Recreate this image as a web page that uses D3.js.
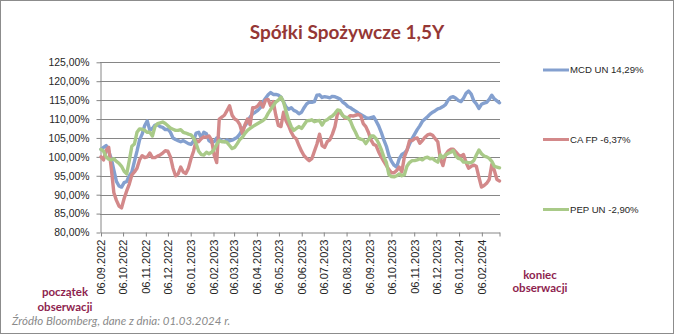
<!DOCTYPE html>
<html>
<head>
<meta charset="utf-8">
<script src="https://cdn.jsdelivr.net/npm/d3@7"></script>
<style>
  html, body { margin: 0; padding: 0; background: #fff; }
  svg { display: block; }
</style>
</head>
<body>
<svg id="chart" width="675" height="335"></svg>
<script>
// Closes sampled twice a week, rebased to 100% on 06.09.2022
const startDate = "2022-09-06";
const endDate = "2024-03-01";

const seriesNames = ["MCD UN 14,29%", "CA FP -6,37%", "PEP UN -2,90%"];
const seriesColors = ["#84a0cf", "#d3898a", "#a9ca88"];

const mcd = [102, 102.5, 103, 101.5, 99.5, 96.5, 93.5, 92.3, 92, 93.2,
  93.5, 95, 96, 98.8, 101.5, 104.5, 106, 108.3, 109.5, 107,
  107.5, 108.4, 108.5, 108, 107.8, 107.2, 107.3, 106.5, 105, 104.6,
  104.3, 104, 104.3, 103.9, 103.5, 103.3, 104.2, 106.3, 106.5, 105,
  106.5, 106.1, 104.3, 103.8, 104, 105, 104.8, 104.2, 104, 104.5,
  104.2, 104.4, 104.8, 105.2, 106, 107.3, 108.2, 109.2, 110.5, 111.4,
  111.8, 112.3, 113, 114.5, 115.5, 116.4, 117, 116.5, 116.5, 116.3,
  115.8, 114.5, 113.2, 112.6, 113, 112.3, 112, 111.4, 111.8, 113,
  114, 114.5, 114.4, 114.6, 116.3, 116.4, 115.7, 115.9, 115.8, 115.6,
  116, 115.9, 115.6, 115.3, 114.5, 114, 113.3, 113, 112.5, 112.1,
  111.6, 111.2, 110.8, 110.4, 110.2, 110.4, 110.6, 109.5, 108.2, 106.5,
  104.5, 102.8, 100.3, 98.8, 97.8, 97.3, 99.5, 100.6, 101, 101.8,
  103.4, 104.8, 106, 107.2, 108.2, 109.4, 110, 110.6, 111.3, 111.8,
  112.2, 112.7, 112.9, 113.3, 113.8, 115, 115.7, 115.9, 115.5, 114.9,
  114.6, 115.5, 116.8, 117.4, 116.6, 114.8, 114, 112.8, 113.9, 114.2,
  114.4, 115.2, 116.3, 115.3, 114.8, 114.29];

const caFp = [100, 99.2, 101.7, 102.5, 97, 90.5, 88.5, 87, 86.5, 89,
  91, 92.8, 95.2, 96, 97, 99.2, 100.3, 99.8, 100, 101,
  99.8, 99.8, 100.2, 100.5, 101, 101.6, 101.5, 100, 97, 95,
  95.5, 97.3, 96, 95.6, 97, 99.5, 101.5, 104.3, 104, 104.8,
  105.3, 105.2, 105.5, 104.5, 100.5, 98.5, 110, 110.5, 111, 112.2,
  113.5, 111, 110, 109.6, 108.5, 106.2, 108.5, 110, 108.5, 113,
  113, 113.5, 114.4, 113.2, 115, 115.2, 113.5, 114.6, 111, 108.3,
  108, 111.8, 109.5, 108.2, 106.5, 105.3, 104.7, 103, 101.5, 100.3,
  99.6, 99, 99.5, 101.5, 103.4, 106, 103, 102.5, 104, 104.5,
  106, 108, 111.5, 111.8, 111, 110.2, 110.3, 110.9, 110.8, 111,
  111.2, 110.9, 108.8, 108, 106.5, 104.5, 103.3, 103, 101.3, 100,
  98.8, 97.7, 96.6, 95.8, 95.8, 96.4, 97.3, 96, 100, 101.7,
  104.3, 104.3, 104.8, 105, 103.6, 104.3, 105.2, 105.8, 106, 105.7,
  104.8, 104, 99.5, 97.7, 100.5, 101.5, 102, 102, 101.3, 100.5,
  100.2, 100.6, 98.5, 97, 97.5, 97.8, 97.5, 94.6, 92, 92.4,
  93, 94, 98, 96.4, 94, 93.63];

const pep = [102, 101.5, 100, 99.4, 99.2, 99.5, 98.8, 98.3, 97.5, 96.2,
  95.5, 99, 102.8, 103.4, 106.5, 107.4, 107.3, 107, 106.5, 106.5,
  105.5, 108, 108.8, 109, 109.2, 108.8, 108.2, 107.6, 107.3, 107,
  107, 107.2, 106.5, 106.3, 106, 105.8, 105, 103.5, 101.5, 100.6,
  100.5, 101.2, 100.8, 101.2, 102, 103.3, 104.3, 104, 104, 103.8,
  103, 102.2, 102.5, 103.5, 104.6, 105.2, 106.2, 107, 107.5, 108,
  108.4, 108.8, 109.2, 109.6, 110.2, 111.5, 112.5, 113.5, 114.5, 115,
  115.8, 114.5, 112, 109.7, 108, 107, 107.5, 108, 107.5, 108.5,
  109.5, 109.6, 109.8, 109.3, 109.5, 109.6, 108.4, 109.5, 109.8, 110.4,
  110.8, 111.5, 112.4, 112.2, 110.9, 110.5, 110.3, 109.5, 107.8, 106.5,
  105, 104.7, 104.5, 103.5, 104.5, 105.5, 105.5, 104.8, 103.6, 102,
  100, 98.5, 95.3, 94.8, 94.7, 95, 95.5, 95, 95.3, 97.5,
  98.5, 99, 99, 99.2, 99.5, 99.2, 99.7, 99.9, 99.5, 99.6,
  99, 98.6, 100.5, 99.8, 100.5, 100.9, 101.2, 101.7, 100.2, 99.6,
  99.4, 98.6, 98.6, 98.4, 98.5, 99, 100.5, 101.8, 100.8, 100.2,
  100, 99.6, 98.8, 97.5, 97.3, 97.1];

const yTicks = [80, 85, 90, 95, 100, 105, 110, 115, 120, 125];

const parse = d3.timeParse("%Y-%m-%d");
const t0 = parse(startDate);
const t1 = parse(endDate);
// observations are evenly spaced over the period
const n = mcd.length;
const dates = d3.range(n).map(j => new Date(+t0 + j * (t1 - t0) / (n - 1)));
// month ticks fall on the 6th, same day as the first observation
const xTicks = d3.range(18).map(i => new Date(2022, 8 + i, 6));

const svg = d3.select("#chart");
const W = 675, H = 335;

// chart frame
svg.append("rect")
  .attr("x", 0.5).attr("y", 0.5)
  .attr("width", W - 2).attr("height", H - 2)
  .attr("fill", "#fff").attr("stroke", "#8c8c8c");

const x = d3.scaleTime().domain([t0, t1]).range([101, 499.5]);
const y = d3.scaleLinear().domain([80, 125]).range([232.5, 62.3]);

// horizontal gridlines
svg.append("g")
  .selectAll("line")
  .data(yTicks.filter(v => v !== 80))
  .join("line")
  .attr("x1", 100).attr("x2", 500)
  .attr("y1", d => Math.round(y(d)) + 0.5)
  .attr("y2", d => Math.round(y(d)) + 0.5)
  .attr("stroke", "#868686").attr("stroke-width", 1);

// y axis
const fmtPct = d => d.toFixed(2).replace(".", ",") + "%";
const yAxis = svg.append("g")
  .attr("transform", "translate(100.5,0)")
  .call(d3.axisLeft(y).tickValues(yTicks).tickFormat(fmtPct).tickSize(4).tickSizeOuter(0).tickPadding(7));
yAxis.select(".domain").attr("stroke", "#868686");
yAxis.selectAll(".tick line").attr("stroke", "#868686");
yAxis.selectAll(".tick text")
  .attr("font-family", "'Liberation Sans', Arial, sans-serif")
  .attr("font-size", "10.4px")
  .attr("fill", "#262626");

// x axis
const fmtDate = d3.timeFormat("%d.%m.%Y");
const xAxis = svg.append("g")
  .attr("transform", "translate(0,232.5)")
  .call(d3.axisBottom(x).tickValues(xTicks.concat([t1]))
    .tickFormat(d => d === t1 ? "" : fmtDate(d)).tickSize(4).tickSizeOuter(0));
xAxis.select(".domain").attr("stroke", "#868686");
xAxis.selectAll(".tick line").attr("stroke", "#868686");
xAxis.selectAll(".tick text")
  .attr("font-family", "'Liberation Sans', Arial, sans-serif")
  .attr("font-size", "11px")
  .attr("fill", "#262626")
  .attr("text-anchor", "end")
  .attr("dy", "0.35em")
  .attr("transform", "translate(0,3) rotate(-90)")
  .attr("x", -4).attr("y", 0);

// series lines
const allSeries = [mcd, caFp, pep];
const line = d3.line()
  .x((d, i) => x(dates[i]))
  .y(d => y(d));

svg.append("g")
  .selectAll("path")
  .data(allSeries)
  .join("path")
  .attr("d", d => line(d))
  .attr("fill", "none")
  .attr("stroke", (d, i) => seriesColors[i])
  .attr("stroke-width", 3.4)
  .attr("stroke-linejoin", "round")
  .attr("stroke-linecap", "round");

// legend
const legendY = [70, 139.5, 209.5];
const legend = svg.append("g")
  .selectAll("g")
  .data(seriesNames)
  .join("g")
  .attr("transform", (d, i) => `translate(543,${legendY[i]})`);
legend.append("line")
  .attr("x1", 0).attr("x2", 26)
  .attr("stroke", (d, i) => seriesColors[i])
  .attr("stroke-width", 3);
legend.append("text")
  .attr("x", 27).attr("dy", "0.35em")
  .attr("font-family", "'Liberation Sans', Arial, sans-serif")
  .attr("font-size", "9.6px")
  .attr("fill", "#262626")
  .text(d => d);

// title
svg.append("text")
  .attr("x", 347).attr("y", 39)
  .attr("text-anchor", "middle")
  .attr("font-family", "Lato, 'Open Sans', sans-serif")
  .attr("font-weight", 700)
  .attr("font-size", "19px")
  .attr("fill", "#953735")
  .text("Spółki Spożywcze 1,5Y");

// start / end notes
const noteColor = "#8e1f4f";
const notes = [
  { t: "początek", x: 65, y: 296 },
  { t: "obserwacji", x: 65, y: 311 },
  { t: "koniec", x: 540, y: 279 },
  { t: "obserwacji", x: 540, y: 292 }
];
svg.append("g")
  .selectAll("text")
  .data(notes)
  .join("text")
  .attr("x", d => d.x).attr("y", d => d.y)
  .attr("text-anchor", "middle")
  .attr("font-family", "Lato, 'Open Sans', sans-serif")
  .attr("font-weight", 700)
  .attr("font-size", "11.5px")
  .attr("fill", noteColor)
  .text(d => d.t);

// source line
svg.append("text")
  .attr("x", 12).attr("y", 325)
  .attr("font-family", "Lato, 'Open Sans', sans-serif")
  .attr("font-style", "italic")
  .attr("font-size", "11.5px")
  .attr("fill", "#8a8a8a")
  .text("Źródło Bloomberg, dane z dnia: 01.03.2024 r.");
</script>
</body>
</html>
